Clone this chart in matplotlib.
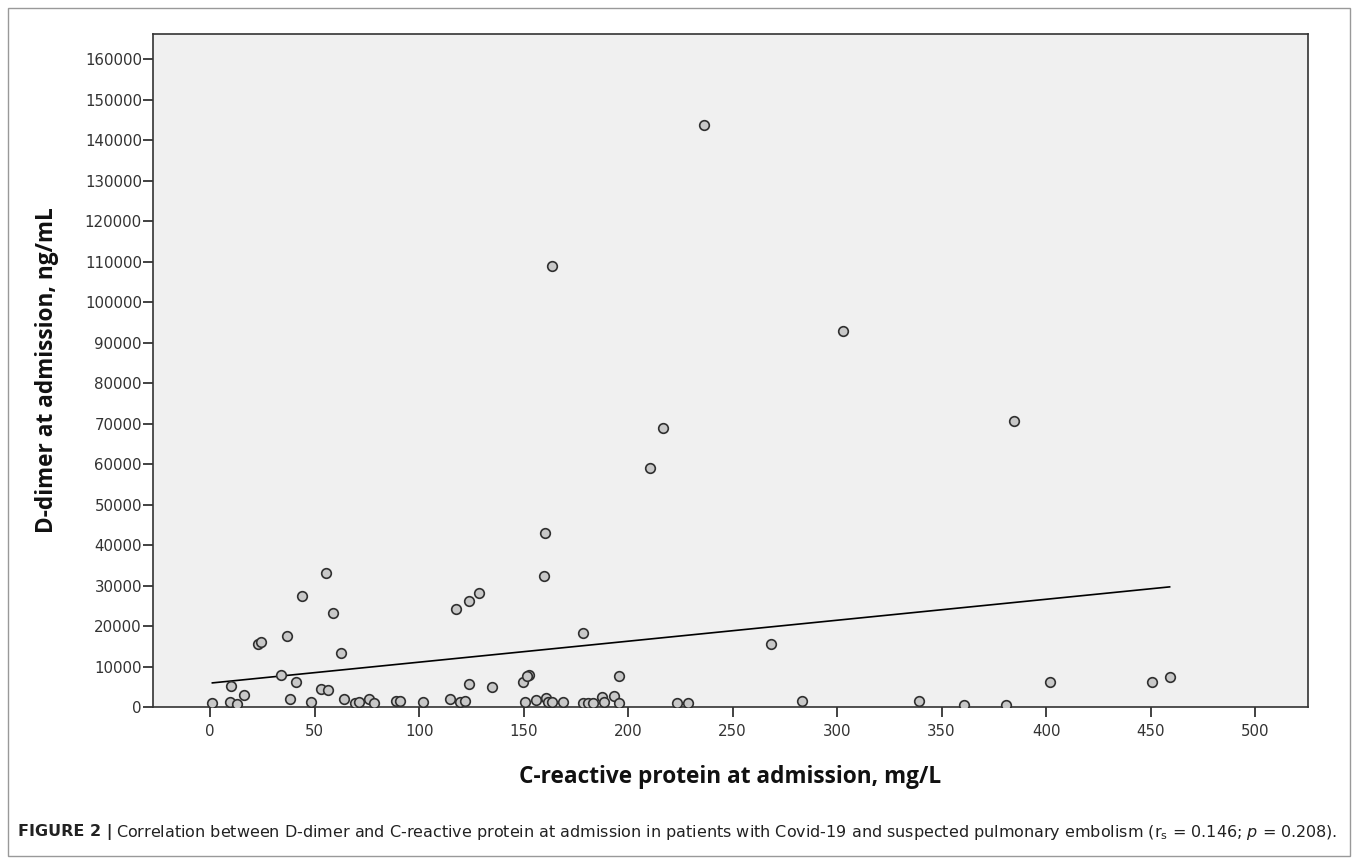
import numpy as np
import matplotlib.pyplot as plt
from matplotlib.patches import Rectangle

# C-reactive protein (mg/L) and D-dimer (ng/mL) at admission
crp = [236.5, 163.8, 303.0, 384.8, 216.6, 210.5, 160.3, 159.8, 55.7, 44.0,
       58.9, 128.9, 124.0, 117.7, 37.0, 23.1, 24.4, 62.8, 178.6, 268.3,
       34.1, 41.0, 10.0, 16.3, 53.1, 56.3, 134.8, 124.0, 149.6, 152.6,
       151.5, 195.7, 401.8, 450.7, 459.1,
       1.1, 9.6, 13.0, 38.3, 48.2, 64.0, 69.2, 71.1, 76.0, 78.5,
       89.0, 91.0, 101.8, 114.8, 119.6, 122.0, 150.9, 156.0, 160.6, 161.9,
       163.5, 168.7, 178.3, 181.0, 183.4, 187.4, 188.5, 193.3, 195.8, 223.3,
       228.7, 283.3, 339.0, 360.9, 381.0]
ddimer = [143800, 109000, 92800, 70600, 69000, 59000, 43000, 32300, 33000, 27400,
          23200, 28100, 26200, 24200, 17500, 15500, 16000, 13400, 18400, 15600,
          7800, 6300, 5200, 3000, 4400, 4200, 4900, 5700, 6300, 7900,
          7700, 7700, 6100, 6100, 7300,
          900, 1300, 700, 2000, 1200, 2000, 1100, 1200, 2000, 1100,
          1500, 1500, 1200, 1900, 1300, 1500, 1300, 1700, 2300, 1300,
          1300, 1300, 1100, 900, 1100, 2500, 1300, 2800, 1100, 1100,
          1100, 1400, 1600, 600, 600]

# linear fit line as drawn in the figure
fit_intercept = 5900
fit_slope = 51.8

xticks = np.arange(0, 501, 50)
yticks = np.arange(0, 160001, 10000)

plt.rcParams['font.family'] = ['DejaVu Sans']

fig = plt.figure(figsize=(13.57, 8.6), dpi=100)
ax = fig.add_axes([153/1357, 1-707/860, (1308-153)/1357, (707-34)/860])
ax.set_facecolor('#f0f0f0')

crp = np.array(crp)
ddimer = np.array(ddimer)
ax.scatter(crp, ddimer, s=48, facecolor='#c8c8c8', edgecolor='#303030',
           linewidths=1.2, zorder=3)

xl = np.array([crp.min(), crp.max()])
ax.plot(xl, fit_intercept + fit_slope*xl, color='black', lw=1.2, zorder=2)

ax.set_xlim(-27.3, 525.3)
ax.set_ylim(0, 166300)
ax.set_xticks(xticks)
ax.set_yticks(yticks)
ax.set_xticklabels([str(v) for v in xticks])
ax.set_yticklabels([str(v) for v in yticks])
ax.tick_params(axis='both', direction='out', length=7, width=1.3, color='#333333',
               labelsize=10.8, labelcolor='#333333')
ax.tick_params(axis='y', pad=1)
ax.tick_params(axis='x', pad=5)
for s in ax.spines.values():
    s.set_color('#333333')
    s.set_linewidth(1.2)

fig.text(730/1357, 1-777/860, 'C-reactive protein at admission, mg/L',
         ha='center', va='center', fontsize=16.3, fontweight='bold',
         family=['Open Sans', 'DejaVu Sans'], color='#111111')
fig.text(47/1357, 1-370/860, 'D-dimer at admission, ng/mL',
         ha='center', va='center', rotation=90, fontsize=16.3, fontweight='bold',
         family=['Open Sans', 'DejaVu Sans'], color='#111111')

# outer frame
fig.patches.append(Rectangle((8/1357, 1-856/860), (1350-8)/1357, (856-8)/860,
                             transform=fig.transFigure, fill=False,
                             edgecolor='#999999', lw=1))

# caption
plt.rcParams['mathtext.fontset'] = 'custom'
plt.rcParams['mathtext.rm'] = 'DejaVu Sans'
plt.rcParams['mathtext.it'] = 'DejaVu Sans:italic'
t1 = fig.text(18/1357, 1-832/860, 'FIGURE 2 |', ha='left', va='center',
              fontsize=11.5, fontweight='bold', color='#222222')
fig.canvas.draw()
bb = t1.get_window_extent()
fig.text((bb.x1 + 4)/1357, 1-832/860,
         'Correlation between D-dimer and C-reactive protein at admission in patients '
         'with Covid-19 and suspected pulmonary embolism (r$_\\mathrm{s}$ = 0.146; $p$ = 0.208).',
         ha='left', va='center', fontsize=11.5, color='#222222')

fig.savefig('out.png', dpi=100)
